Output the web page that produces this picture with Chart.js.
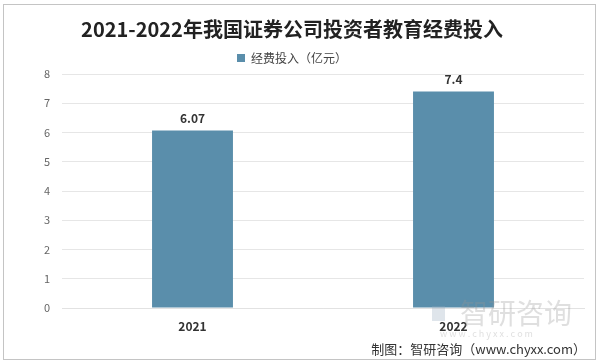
<!DOCTYPE html>
<html>
<head>
<meta charset="utf-8">
<script src="https://cdn.jsdelivr.net/npm/chart.js@4"></script>
<style>
  body { margin: 0; background: #fff; }
  #wrap { width: 600px; height: 364px; position: relative; }
</style>
</head>
<body>
<div id="wrap"><canvas id="chart" width="600" height="364"></canvas></div>
<script>
const years = ['2021', '2022'];
const spending = [6.07, 7.4];
const seriesLabel = '经费投入（亿元）';
const chartTitle = '2021-2022年我国证券公司投资者教育经费投入';
const sourceText = '制图：智研咨询（www.chyxx.com）';

const barColor = '#5a8eab';
const cjkFont = '"Noto Sans CJK SC", "Noto Sans", sans-serif';

// value labels above bars, frame, watermark and source line
const decorations = {
  id: 'decorations',
  beforeDraw(chart) {
    const ctx = chart.ctx;
    ctx.save();
    ctx.fillStyle = '#fff';
    ctx.fillRect(0, 0, chart.width, chart.height);
    ctx.strokeStyle = '#c4c4c4';
    ctx.lineWidth = 1;
    ctx.strokeRect(3.5, 4.5, 592, 355);
    ctx.restore();
  },
  afterDraw(chart) {
    const ctx = chart.ctx;
    ctx.save();
    const meta = chart.getDatasetMeta(0);
    ctx.font = 'bold 12px ' + cjkFont;
    ctx.fillStyle = '#333';
    ctx.textAlign = 'center';
    ctx.textBaseline = 'bottom';
    meta.data.forEach((bar, i) => {
      ctx.fillText(String(spending[i]), bar.x, bar.y - 6);
    });

    // watermark
    ctx.fillStyle = 'rgba(150,170,190,0.3)';
    ctx.fillRect(432, 306, 13, 15);
    ctx.font = '28px ' + cjkFont;
    ctx.textAlign = 'left';
    ctx.textBaseline = 'middle';
    ctx.fillStyle = 'rgba(150,150,150,0.3)';
    ctx.fillText('智研咨询', 460, 313);
    ctx.font = '9px ' + cjkFont;
    ctx.fillText('w w w . c h y x x . c o m', 440, 334);

    ctx.font = '13px ' + cjkFont;
    ctx.fillStyle = '#333';
    ctx.textAlign = 'right';
    ctx.fillText(sourceText, 586, 349);
    ctx.restore();
  }
};

new Chart(document.getElementById('chart'), {
  type: 'bar',
  data: {
    labels: years,
    datasets: [
      {
        label: seriesLabel,
        data: spending,
        backgroundColor: barColor,
        categoryPercentage: 1,
        barPercentage: 0.31,
      },
    ],
  },
  options: {
    responsive: false,
    animation: false,
    layout: { padding: { top: 0, right: 16, bottom: 30, left: 0 } },
    plugins: {
      title: {
        display: true,
        text: chartTitle,
        color: '#222',
        font: { family: cjkFont, size: 20, weight: 'bold', lineHeight: 1 },
        padding: { top: 19, bottom: 0 },
      },
      legend: {
        display: true,
        labels: {
          color: '#444',
          font: { family: cjkFont, size: 12 },
          boxWidth: 8,
          boxHeight: 8,
          padding: 13,
        },
      },
      tooltip: { enabled: false },
    },
    scales: {
      x: {
        grid: { display: false },
        border: { color: '#e2e2e2' },
        ticks: { color: '#333', font: { family: cjkFont, size: 12, weight: 'bold' } },
        afterFit(scale) { scale.height = 26; },
      },
      y: {
        min: 0,
        max: 8,
        ticks: { stepSize: 1, color: '#666', font: { family: cjkFont, size: 11 }, padding: 12 },
        grid: { color: '#e6e6e6', drawTicks: false },
        border: { display: false },
        afterFit(scale) { scale.width = 62; },
      },
    },
  },
  plugins: [decorations],
});
</script>
</body>
</html>
